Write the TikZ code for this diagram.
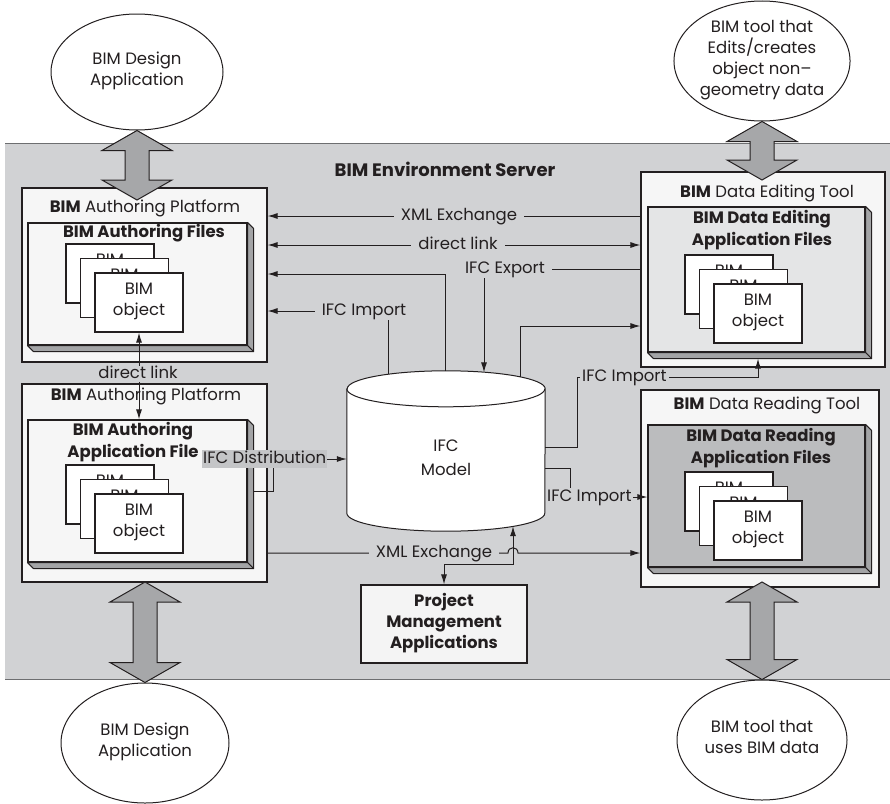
\documentclass[tikz,border=0pt]{standalone}
\usepackage{fontspec}
\setmainfont{Poppins}
\usetikzlibrary{shapes.geometric,arrows.meta,calc}
\definecolor{ink}{HTML}{231F20}
\definecolor{bandgray}{HTML}{D1D2D4}
\definecolor{bandline}{HTML}{6D6E70}
\definecolor{boxwhite}{HTML}{F6F6F6}
\definecolor{sidegray}{HTML}{A3A4A6}
\definecolor{deinner}{HTML}{E4E5E6}
\definecolor{drinner}{HTML}{BBBCBE}
\definecolor{arrowgray}{HTML}{A6A7A9}
\definecolor{distgray}{HTML}{C4C5C7}
\definecolor{pmfill}{HTML}{F4F4F4}
\newcommand\nf{\fontsize{16.5}{22}\selectfont}
\newcommand\nfs{\fontsize{16.5}{21}\selectfont}
\newcommand\nfc{\fontsize{16.5}{24}\selectfont}
\newcommand\boxdepthfaces[1]{%
  \draw[ln, fill=sidegray, line join=round] (#1.north east) -- ++(6,6) -- ($(#1.south east)+(6,6)$) -- (#1.south east) -- cycle;
  \draw[ln, fill=sidegray, line join=round] (#1.south west) -- ++(6,6) -- ($(#1.south east)+(6,6)$) -- (#1.south east) -- cycle;}
\newcommand\pagestack[2]{%
  \node[pagebox] (#1a) at (#2) {BIM\\object};
  \node[pagebox] (#1b) at ($(#2)+(14.5,14.5)$) {BIM\\object};
  \node[pagebox] (#1c) at ($(#2)+(29,29)$) {BIM\\object};}
\newcommand\fatarrow[2]{%
  \draw[fatarr] let \p1=(#1), \p2=(#2) in
    (\x1,\y1) -- (\x1+35pt,\y1-20pt) -- (\x1+12pt,\y1-20pt) -- (\x1+12pt,\y2+20pt)
    -- (\x1+35pt,\y2+20pt) -- (\x1,\y2) -- (\x1-35pt,\y2+20pt) -- (\x1-12pt,\y2+20pt)
    -- (\x1-12pt,\y1-20pt) -- (\x1-35pt,\y1-20pt) -- cycle;}
\begin{document}
\begin{tikzpicture}[x=1pt,y=-1pt,
  ln/.style={draw=ink, line width=1pt},
  arr/.style={ln, -{Latex[length=10pt,width=6pt]}},
  arr2/.style={ln, {Latex[length=10pt,width=6pt]}-{Latex[length=10pt,width=6pt]}},
  boxframe/.style={rectangle, draw=ink, line width=1.1pt, inner sep=0pt},
  ml/.style={align=center, text=ink, inner sep=0pt, execute at begin node=\strut, execute at end node=\strut},
  pagebox/.style={boxframe, fill=white, minimum width=88pt, minimum height=59pt, font=\nfs, ml},
  ttl/.style={font=\nf, text=ink, inner sep=0pt, text height=12pt, text depth=4pt},
  lbl/.style={fill=bandgray, font=\nf, text=ink, inner xsep=7pt, inner ysep=1pt, text height=12pt, text depth=4pt},
  bubble/.style={ellipse, draw=ink, line width=1pt, fill=white, font=\nfs, ml},
  fatarr/.style={draw=ink, line width=1pt, fill=arrowgray, line join=miter},
]
\useasboundingbox (0,0) rectangle (890,803);
% server band
\node[fill=bandgray, inner sep=0pt, minimum width=885pt, minimum height=536pt, anchor=north west] (server) at (5,143) {};
\draw[draw=bandline, line width=0.8pt] (server.north west) -- (server.north east) (server.south west) -- (server.south east);
\node[ttl, font=\fontsize{18}{22}\selectfont\bfseries] (srv) at (445,172) {BIM Environment Server};

% outer ellipses
\node[bubble, minimum width=172pt, minimum height=116pt] (eTL) at (137,72) {BIM Design\\Application};
\node[bubble, minimum width=172pt, minimum height=120pt] (eTR) at (762,61) {BIM tool that\\Edits/creates\\object non–\\geometry data};
\node[bubble, minimum width=168pt, minimum height=120pt] (eBL) at (145,743) {BIM Design\\Application};
\node[bubble, minimum width=170pt, minimum height=120pt] (eBR) at (762,740) {BIM tool that\\uses BIM data};

% outer boxes
\node[boxframe, fill=boxwhite, minimum width=245pt, minimum height=174pt] (apT) at (144.5,275) {};
\node[boxframe, fill=boxwhite, minimum width=245pt, minimum height=198pt] (apB) at (144.5,483) {};
\node[boxframe, fill=boxwhite, minimum width=244pt, minimum height=195pt] (deT) at (763,269.5) {};
\node[boxframe, fill=boxwhite, minimum width=238pt, minimum height=197pt] (drB) at (760,488.5) {};
\node[ttl] (apTt) at (145,208) {\textbf{BIM} Authoring Platform};
\node[ttl] (apBt) at (146,396) {\textbf{BIM} Authoring Platform};
\node[ttl] (deTt) at (767,193) {\textbf{BIM} Data Editing Tool};
\node[ttl] (drBt) at (767,405) {\textbf{BIM} Data Reading Tool};

% inner 3D boxes
\node[boxframe, fill=boxwhite, minimum width=219pt, minimum height=122pt] (afT) at (137.5,284) {};
\boxdepthfaces{afT}
\node[boxframe, fill=boxwhite, minimum width=219pt, minimum height=142pt] (afB) at (137.5,491) {};
\boxdepthfaces{afB}
\node[boxframe, fill=deinner, minimum width=217pt, minimum height=145pt] (deI) at (756.5,279.5) {};
\boxdepthfaces{deI}
\node[boxframe, fill=drinner, minimum width=217pt, minimum height=142pt] (drI) at (756.5,496) {};
\boxdepthfaces{drI}
\node[ttl, font=\nf\bfseries] (afTt) at (144,233) {BIM Authoring Files};
\node[ml, font=\nf\bfseries] (afBt) at (133,443) {BIM Authoring\\Application File};
\node[ml, font=\nf\bfseries] (deIt) at (762,231.5) {BIM Data Editing\\Application Files};
\node[ml, font=\nf\bfseries] (drIt) at (761,449) {BIM Data Reading\\Application Files};

% object pages
\pagestack{pTL}{110,273.5}
\pagestack{pBL}{110,494.5}
\pagestack{pTR}{729,284.5}
\pagestack{pBR}{729,501.5}

% IFC model cylinder
\node[minimum width=198pt, minimum height=124pt, inner sep=0pt] (cyl) at (446,451) {};
\draw[ln, fill=white] (cyl.north west) -- (cyl.south west) arc[start angle=180, end angle=360, x radius=99pt, y radius=18pt] -- (cyl.north east) arc[start angle=0, end angle=180, x radius=99pt, y radius=18pt] -- cycle;
\draw[ln] (cyl.north west) arc[start angle=180, end angle=360, x radius=99pt, y radius=18pt];
\node[ml, font=\nfc] (cylt) at ($(cyl.center)+(0,10)$) {IFC\\Model};

% project management
\node[boxframe, fill=pmfill, minimum width=166pt, minimum height=78pt, font=\nfs\bfseries, ml] (pm) at (444,624) {Project\\Management\\Applications};

% connector points
\coordinate (cIL) at (388,374.4);
\coordinate (cA) at (445,371);
\coordinate (cExp) at (484,372.4);
\coordinate (cR) at (520,377);
\coordinate (cB) at (513,526.2);
\coordinate (bA) at (445,274);
\coordinate (bR) at (520,326);
\coordinate (bI1) at (577,447);
\coordinate (bI2) at (570,468);
\coordinate (bD) at (273,491);
\coordinate (bP) at (513,564);
\coordinate (deIb) at ($(deI.south)+(0,6)$);
\coordinate (kXT) at (459,216);
\coordinate (kDL) at (458,245);
\coordinate (kEx) at (505,269);
\coordinate (kIL) at (364,311);
\coordinate (kIR1) at (580,377);
\coordinate (kIR2) at (546,497);
\coordinate (kDi) at (202,459);
\coordinate (kXB) at (434,553);
\coordinate (kDV) at (138,374);

% connectors
\draw[arr] (deT.west |- kXT) -- (apT.east |- kXT);
\draw[arr2] (apT.east |- kDL) -- (deT.west |- kDL);
\draw[arr] (deT.west |- kEx) -- (cExp |- kEx) -- (cExp);
\draw[arr] (cA) -- (bA) -- (apT.east |- bA);
\draw[arr] (cIL) -- (cIL |- kIL) -- (apT.east |- kIL);
\draw[arr] (cR) -- (bR) -- (deT.west |- bR);
\draw[arr] (cyl.east |- bI1) -- (bI1) -- (bI1 |- kIR1) -- (pTRc.south |- kIR1) -- (pTRc.south |- deIb);
\draw[arr] (cyl.east |- bI2) -- (bI2) -- (bI2 |- kIR2) -- (drI.west |- kIR2);
\draw[arr] ($(afB.east |- bD)+(6,0)$) -- (bD) -- (bD |- kDi) -- (cyl.west |- kDi);
\draw[arr] (apB.east |- kXB) -- ($(cB |- kXB)+(-5,0)$) .. controls ($(cB |- kXB)+(-5,-7)$) and ($(cB |- kXB)+(5,-7)$) .. ($(cB |- kXB)+(5,0)$) -- (drB.west |- kXB);
\draw[arr2] (pm.north) |- (bP) -- (cB);
\draw[arr2] (pTLc.south) -- (pTLc.south |- afB.north);

% connector labels
\node[lbl] (tXT) at (kXT) {XML Exchange};
\node[lbl] (tDL) at (kDL) {direct link};
\node[lbl] (tEx) at (kEx) {IFC Export};
\node[lbl] (tIL) at (kIL) {IFC Import};
\node[lbl, inner xsep=2pt, anchor=west] (tIR1) at (kIR1) {IFC Import};
\node[lbl, inner xsep=1pt, anchor=west] (tIR2) at (kIR2) {IFC Import};
\node[lbl, fill=distgray, inner xsep=1pt, anchor=west] (tDi) at (kDi) {IFC Distribution};
\node[lbl] (tXB) at (kXB) {XML Exchange};
\node[lbl, inner xsep=1pt, inner ysep=0pt] (tDV) at (kDV) {direct link};

% big exchange arrows
\coordinate (aTL) at (137,200);
\coordinate (aTR) at (762,180);
\coordinate (aBL) at (145,582);
\coordinate (aBR) at (762,582);
\fatarrow{eTL.south}{aTL}
\fatarrow{eTR.south}{aTR}
\fatarrow{aBL}{eBL.north}
\fatarrow{aBR}{eBR.north}
\end{tikzpicture}
\end{document}
